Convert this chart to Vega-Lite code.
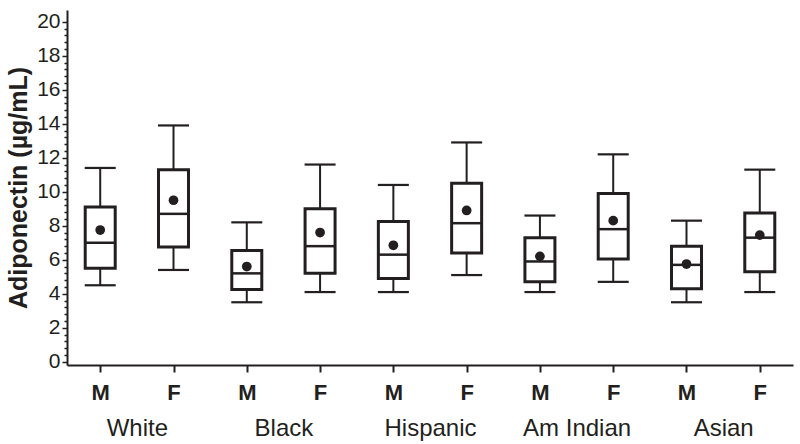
{
  "$schema": "https://vega.github.io/schema/vega-lite/v6.json",
  "autosize": {"type": "none"},
  "padding": {"left": 67, "top": 10, "right": 7, "bottom": 79},
  "width": 726,
  "height": 355,
  "background": "white",
  "config": {"view": {"stroke": null}, "font": "Liberation Sans"},
  "data": {"values": [
    {"group": "White", "sex": "M", "pos": 0, "lo": 4.5, "q1": 5.5, "med": 7.0, "q3": 9.1, "hi": 11.4, "mean": 7.75},
    {"group": "White", "sex": "F", "pos": 1, "lo": 5.4, "q1": 6.75, "med": 8.7, "q3": 11.3, "hi": 13.9, "mean": 9.5},
    {"group": "Black", "sex": "M", "pos": 2, "lo": 3.5, "q1": 4.25, "med": 5.2, "q3": 6.55, "hi": 8.2, "mean": 5.6},
    {"group": "Black", "sex": "F", "pos": 3, "lo": 4.1, "q1": 5.2, "med": 6.8, "q3": 9.0, "hi": 11.6, "mean": 7.6},
    {"group": "Hispanic", "sex": "M", "pos": 4, "lo": 4.1, "q1": 4.9, "med": 6.3, "q3": 8.25, "hi": 10.4, "mean": 6.85},
    {"group": "Hispanic", "sex": "F", "pos": 5, "lo": 5.1, "q1": 6.4, "med": 8.15, "q3": 10.5, "hi": 12.9, "mean": 8.9},
    {"group": "Am Indian", "sex": "M", "pos": 6, "lo": 4.1, "q1": 4.7, "med": 5.9, "q3": 7.3, "hi": 8.6, "mean": 6.2},
    {"group": "Am Indian", "sex": "F", "pos": 7, "lo": 4.7, "q1": 6.05, "med": 7.8, "q3": 9.9, "hi": 12.2, "mean": 8.3},
    {"group": "Asian", "sex": "M", "pos": 8, "lo": 3.5, "q1": 4.3, "med": 5.7, "q3": 6.8, "hi": 8.3, "mean": 5.75},
    {"group": "Asian", "sex": "F", "pos": 9, "lo": 4.1, "q1": 5.3, "med": 7.3, "q3": 8.75, "hi": 11.3, "mean": 7.45}
  ]},
  "resolve": {"axis": {"x": "independent", "y": "independent"}},
  "layer": [
    {
      "mark": {"type": "rule", "color": "#231f20", "strokeWidth": 2},
      "encoding": {
        "x": {"field": "pos", "type": "quantitative",
              "scale": {"domain": [-0.385, 9.385], "nice": false, "zero": false},
              "axis": {"orient": "bottom", "values": [0,1,2,3,4,5,6,7,8,9],
                       "labelExpr": "datum.value % 2 == 0 ? 'M' : 'F'",
                       "title": null, "grid": false, "domainColor": "#231f20", "domainWidth": 2,
                       "tickColor": "#231f20", "tickWidth": 2, "tickSize": 7,
                       "labelFont": "Liberation Sans", "labelFontWeight": "bold", "labelFontSize": 22,
                       "labelColor": "#231f20", "labelPadding": 10}},
        "y": {"field": "lo", "type": "quantitative",
              "scale": {"domain": [-0.19, 20.69], "nice": false, "zero": false},
              "axis": {"orient": "left", "values": [0,2,4,6,8,10,12,14,16,18,20],
                       "title": "Adiponectin (µg/mL)", "titleFont": "Liberation Sans",
                       "titleFontSize": 25, "titleFontWeight": "bold", "titleColor": "#231f20",
                       "titlePadding": 5, "grid": false,
                       "domainColor": "#231f20", "domainWidth": 2,
                       "tickColor": "#231f20", "tickWidth": 1.5, "tickSize": 5,
                       "labelFont": "Liberation Sans", "labelFontSize": 21, "labelColor": "#231f20",
                       "labelPadding": 2}},
        "y2": {"field": "q1"}
      }
    },
    {
      "mark": {"type": "rule", "color": "#231f20", "strokeWidth": 2},
      "encoding": {
        "x": {"field": "pos", "type": "quantitative",
              "scale": {"domain": [-0.385, 9.385], "nice": false, "zero": false},
              "axis": {"orient": "bottom", "values": [0.5, 2.5, 4.5, 6.5, 8.5],
                       "labelExpr": "['White','Black','Hispanic','Am Indian','Asian'][floor(datum.value/2)]",
                       "title": null, "grid": false, "domain": false, "ticks": false,
                       "labelFont": "Liberation Sans", "labelFontSize": 24, "labelColor": "#231f20",
                       "labelPadding": 51}},
        "y": {"field": "q3", "type": "quantitative",
              "scale": {"domain": [-0.19, 20.69], "nice": false, "zero": false},
              "axis": {"orient": "left", "values": [0.4,0.8,1.2,1.6,2.4,2.8,3.2,3.6,4.4,4.8,5.2,5.6,6.4,6.8,7.2,7.6,8.4,8.8,9.2,9.6,10.4,10.8,11.2,11.6,12.4,12.8,13.2,13.6,14.4,14.8,15.2,15.6,16.4,16.8,17.2,17.6,18.4,18.8,19.2,19.6],
                       "labels": false, "title": null, "grid": false, "domain": false,
                       "tickColor": "#231f20", "tickWidth": 1.5, "tickSize": 3}},
        "y2": {"field": "hi"}
      }
    },
    {
      "mark": {"type": "tick", "orient": "horizontal", "color": "#231f20", "size": 31, "thickness": 2.2, "opacity": 1},
      "encoding": {
        "x": {"field": "pos", "type": "quantitative", "axis": null},
        "y": {"field": "lo", "type": "quantitative", "axis": null}
      }
    },
    {
      "mark": {"type": "tick", "orient": "horizontal", "color": "#231f20", "size": 31, "thickness": 2.2, "opacity": 1},
      "encoding": {
        "x": {"field": "pos", "type": "quantitative", "axis": null},
        "y": {"field": "hi", "type": "quantitative", "axis": null}
      }
    },
    {
      "mark": {"type": "bar", "width": 30, "fill": "white", "stroke": "#231f20", "strokeWidth": 3},
      "encoding": {
        "x": {"field": "pos", "type": "quantitative", "axis": null},
        "y": {"field": "q1", "type": "quantitative", "axis": null},
        "y2": {"field": "q3"}
      }
    },
    {
      "mark": {"type": "tick", "orient": "horizontal", "color": "#231f20", "size": 30, "thickness": 2.5, "opacity": 1},
      "encoding": {
        "x": {"field": "pos", "type": "quantitative", "axis": null},
        "y": {"field": "med", "type": "quantitative", "axis": null}
      }
    },
    {
      "mark": {"type": "point", "filled": true, "color": "#231f20", "opacity": 1, "size": 95},
      "encoding": {
        "x": {"field": "pos", "type": "quantitative", "axis": null},
        "y": {"field": "mean", "type": "quantitative", "axis": null}
      }
    }
  ]
}
